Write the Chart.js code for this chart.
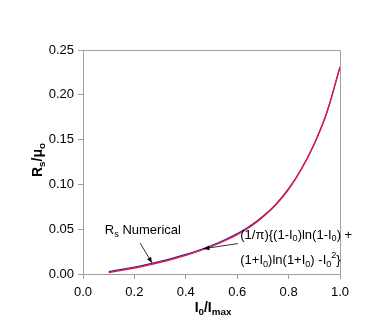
<!DOCTYPE html>
<html>
<head>
<meta charset="utf-8">
<script src="https://cdn.jsdelivr.net/npm/chart.js@4"></script>
<style>
  body { margin: 0; background: #fff; }
  #wrap { width: 374px; height: 332px; }
</style>
</head>
<body>
<div id="wrap"><canvas id="rsChart" width="374" height="332"></canvas></div>
<script>
// values
const ratio = [0.1, 0.15, 0.2, 0.25, 0.3, 0.35, 0.4, 0.45, 0.5, 0.55, 0.6, 0.65, 0.7, 0.75, 0.8, 0.85, 0.9, 0.95, 1.0];
const rsNumerical = [0.0026, 0.0051, 0.0078, 0.0108, 0.0141, 0.0178, 0.0219, 0.0265, 0.0318, 0.0379, 0.0451, 0.0535, 0.0644, 0.0778, 0.0952, 0.1175, 0.1455, 0.1814, 0.2312];
const rsFormula = [0.0015, 0.004, 0.0067, 0.0097, 0.013, 0.0167, 0.0208, 0.0254, 0.0307, 0.0368, 0.044, 0.0525, 0.0635, 0.077, 0.0945, 0.117, 0.145, 0.181, 0.231];
const xTicks = [0, 0.2, 0.4, 0.6, 0.8, 1.0];
const yTicks = [0, 0.05, 0.10, 0.15, 0.20, 0.25];

const FONT = '"Liberation Sans", Arial, sans-serif';

// draw text made of pieces, some of them sub/superscript
function drawRich(ctx, parts, x, y, size, bold, align) {
    const w = bold ? 'bold ' : '';
    let total = 0;
    parts.forEach(p => {
        ctx.font = w + (p.s ? size * 0.7 : size) + 'px ' + FONT;
        total += ctx.measureText(p.t).width;
    });
    let cx = align === 'center' ? x - total / 2 : x;
    ctx.textBaseline = 'middle';
    ctx.textAlign = 'left';
    parts.forEach(p => {
        ctx.font = w + (p.s ? size * 0.7 : size) + 'px ' + FONT;
        let dy = 0;
        if (p.s === 'sub') dy = size * 0.3;
        if (p.s === 'sup') dy = -size * 0.35;
        ctx.fillText(p.t, cx, y + dy);
        cx += ctx.measureText(p.t).width;
    });
}

function arrow(ctx, x1, y1, x2, y2) {
    ctx.beginPath();
    ctx.moveTo(x1, y1);
    ctx.lineTo(x2, y2);
    ctx.stroke();
    const a = Math.atan2(y2 - y1, x2 - x1);
    ctx.beginPath();
    ctx.moveTo(x2, y2);
    ctx.lineTo(x2 - 6 * Math.cos(a - 0.4), y2 - 6 * Math.sin(a - 0.4));
    ctx.lineTo(x2 - 6 * Math.cos(a + 0.4), y2 - 6 * Math.sin(a + 0.4));
    ctx.closePath();
    ctx.fill();
}

const extras = {
    id: 'extras',
    afterDraw(chart) {
        const ctx = chart.ctx;
        const xs = chart.scales.x, ys = chart.scales.y;
        const a = chart.chartArea;
        ctx.save();
        // frame
        ctx.strokeStyle = '#a0a0a0';
        ctx.lineWidth = 1;
        ctx.beginPath();
        ctx.moveTo(a.left, a.top + 0.5);
        ctx.lineTo(a.right + 0.5, a.top + 0.5);
        ctx.lineTo(a.right + 0.5, a.bottom);
        ctx.stroke();

        ctx.fillStyle = '#000';
        ctx.strokeStyle = '#000';
        // axis titles
        drawRich(ctx, [{ t: 'I' }, { t: '0', s: 'sub' }, { t: '/I' }, { t: 'max', s: 'sub' }], 213, 308, 14, true, 'center');
        ctx.save();
        ctx.translate(38, 160);
        ctx.rotate(-Math.PI / 2);
        drawRich(ctx, [{ t: 'R' }, { t: 's', s: 'sub' }, { t: '/μ' }, { t: 'o', s: 'sub' }], 0, 0, 14, true, 'center');
        ctx.restore();

        // annotations
        const px = v => xs.getPixelForValue(v), py = v => ys.getPixelForValue(v);
        drawRich(ctx, [{ t: 'R' }, { t: 's', s: 'sub' }, { t: ' Numerical' }], px(0.085), py(0.049), 13, false, 'left');
        ctx.lineWidth = 0.8;
        arrow(ctx, px(0.222), py(0.0346), px(0.268), py(0.0125));
        drawRich(ctx, [{ t: '(1/π){(1-I' }, { t: '0', s: 'sub' }, { t: ')ln(1-I' }, { t: '0', s: 'sub' }, { t: ') +' }], px(0.612), py(0.0435), 13, false, 'left');
        drawRich(ctx, [{ t: '(1+I' }, { t: '0', s: 'sub' }, { t: ')ln(1+I' }, { t: '0', s: 'sub' }, { t: ') -I' }, { t: '0', s: 'sub' }, { t: '2', s: 'sup' }, { t: '}' }], px(0.612), py(0.0155), 13, false, 'left');
        arrow(ctx, px(0.603), py(0.034), px(0.47), py(0.0282));
        ctx.restore();
    }
};

new Chart(document.querySelector('#rsChart'), {
    type: 'scatter',
    data: {
        datasets: [
            {
                // drawn on top
                label: 'formula',
                data: ratio.map((r, i) => ({ x: r, y: rsFormula[i] })),
                showLine: true,
                borderColor: '#f0142d',
                borderWidth: 1.3,
                pointRadius: 0,
                cubicInterpolationMode: 'monotone',
            },
            {
                label: 'Rs Numerical',
                data: ratio.map((r, i) => ({ x: r, y: rsNumerical[i] })),
                showLine: true,
                borderColor: '#2424b4',
                borderWidth: 1.2,
                pointRadius: 0,
                cubicInterpolationMode: 'monotone',
            }
        ]
    },
    options: {
        responsive: false,
        animation: false,
        layout: { padding: { top: 50, right: 34, left: 0, bottom: 0 } },
        scales: {
            x: {
                type: 'linear',
                min: 0,
                max: 1,
                afterBuildTicks: s => { s.ticks = xTicks.map(v => ({ value: v })); },
                afterFit: s => { s.height = 58; },
                grid: { drawOnChartArea: false, tickLength: 5, tickColor: '#a0a0a0' },
                border: { color: '#a0a0a0' },
                ticks: {
                    padding: 6,
                    color: '#000',
                    font: { family: FONT, size: 13 },
                    callback: v => v.toFixed(1),
                    maxRotation: 0
                }
            },
            y: {
                min: 0,
                max: 0.25,
                afterBuildTicks: s => { s.ticks = yTicks.map(v => ({ value: v })); },
                afterFit: s => { s.width = 83; },
                grid: { drawOnChartArea: false, tickLength: 5, tickColor: '#a0a0a0' },
                border: { color: '#a0a0a0' },
                ticks: {
                    padding: 4,
                    color: '#000',
                    font: { family: FONT, size: 13 },
                    callback: v => v.toFixed(2)
                }
            }
        },
        plugins: {
            legend: { display: false },
            tooltip: { enabled: false }
        }
    },
    plugins: [extras]
});
</script>
</body>
</html>
